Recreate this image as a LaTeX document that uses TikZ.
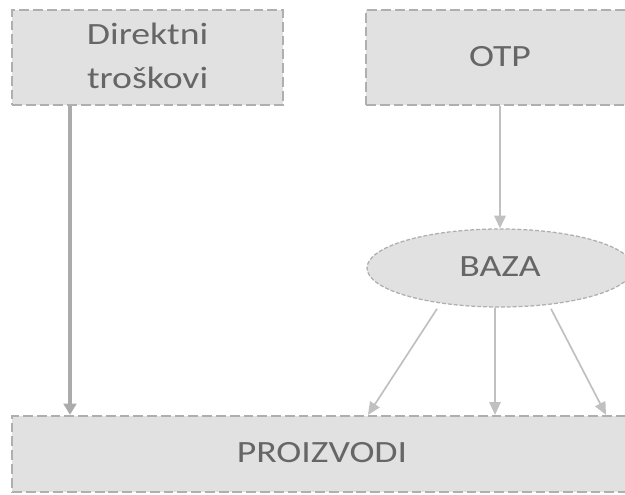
\documentclass[tikz,border=0pt]{standalone}
\usepackage{fontspec}
\setmainfont{Carlito}
\usepackage{graphicx}
\usetikzlibrary{arrows.meta, shapes.geometric}
\definecolor{boxfill}{HTML}{E1E1E1}
\definecolor{boxline}{HTML}{AFAFAF}
\definecolor{txtgray}{HTML}{666666}
\definecolor{arrgray}{HTML}{ABABAB}
\definecolor{arrlight}{HTML}{C0C0C0}
\newcommand{\boxtext}[1]{\scalebox{1.22}[1]{\begin{tabular}{@{}c@{}}#1\end{tabular}}}

\begin{document}
\begin{tikzpicture}[
		block/.style={draw=boxline, fill=boxfill, line width=1.6pt, dash pattern=on 7pt off 2.8pt, text=txtgray, font=\fontsize{22}{31}\selectfont, inner sep=0pt},
		oval/.style={ellipse, draw=boxline, fill=boxfill, line width=0.9pt, dash pattern=on 2.8pt off 1.4pt, text=txtgray, font=\fontsize{22}{31}\selectfont, inner sep=0pt},
		thickarrow/.style={draw=arrgray, line width=2.2pt, -{Triangle[length=8pt,width=9pt]}},
		thinarrow/.style={draw=arrlight, line width=1.2pt, -{Triangle[length=9pt,width=8pt]}}
	]
		\useasboundingbox (0,0) rectangle (15.625,-12.35);
		\clip (0,0) rectangle (15.625,-12.35);
		
		\node[block, minimum width=6.775cm, minimum height=2.375cm] (dir) at (3.69,-1.44) {\boxtext{Direktni\\troškovi}};
		\node[block, minimum width=6.7cm, minimum height=2.375cm] (otp) at (12.5,-1.44) {\raisebox{0.17cm}{\boxtext{OTP}}};
		\node[oval, minimum width=6.65cm, minimum height=1.95cm] (baza) at (12.5,-6.7) {\boxtext{BAZA}};
		\node[block, minimum width=15.5cm, minimum height=1.9cm] (proiz) at (8.05,-11.35) {\boxtext{PROIZVODI}};
		
		\draw[thickarrow] ([xshift=-1.94cm]dir.south) -- ([xshift=-1.94cm]dir.south |- proiz.north);
		\draw[thinarrow, line width=1.6pt] (otp) -- (baza);
		
		\draw[thinarrow] ([xshift=-1.575cm,yshift=-0.03cm]baza.south) -- ([xshift=1.15cm]proiz.north);
		\draw[thinarrow] ([xshift=-0.125cm]baza.south) -- ([xshift=4.325cm]proiz.north);
		\draw[thinarrow] ([xshift=1.275cm,yshift=-0.03cm]baza.south) -- ([xshift=7.1cm]proiz.north);
	\end{tikzpicture}
\end{document}
